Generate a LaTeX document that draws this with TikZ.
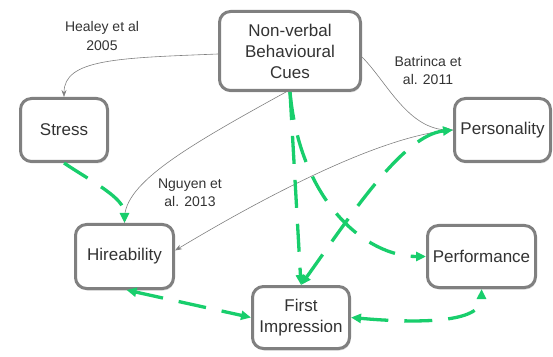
\documentclass[tikz,border=0pt]{standalone}
\usepackage{fontspec}
\setmainfont{Liberation Sans}
\usetikzlibrary{arrows.meta,shadows}
\definecolor{boxgray}{RGB}{128,128,128}
\definecolor{txt}{RGB}{51,51,51}
\definecolor{grn}{RGB}{24,206,108}
\begin{document}
\begin{tikzpicture}[x=1pt,y=1pt,
  box/.style={draw=boxgray, line width=3pt, rounded corners=11pt, fill=white, align=center,
    text=txt, font=\fontsize{17}{21}\selectfont, inner sep=2pt,
    drop shadow={shadow xshift=1pt, shadow yshift=-2pt, opacity=0.3}},
  lbl/.style={align=center, text=txt, font=\fontsize{14}{18}\selectfont},
  thinarrow/.style={draw=gray, line width=0.6pt, -{Stealth[length=7pt,width=5pt]}},
  gdash/.style={draw=grn, line width=3.3pt, dash pattern=on 28pt off 16pt},
  gtip/.tip={Triangle[length=10pt,width=9pt]}
]
\useasboundingbox (0,0) rectangle (553,356);
% nodes
\node[box, minimum width=141pt, minimum height=79pt] (nvc) at (290,305) {Non-verbal\\Behavioural\\Cues};
\node[box, minimum width=87pt, minimum height=63pt] (stress) at (64,226) {Stress};
\node[box, minimum width=96pt, minimum height=63pt] (pers) at (502.5,226) {Personality};
\node[box, minimum width=98pt, minimum height=64pt] (hire) at (124.5,99.5) {Hireability};
\node[box, minimum width=97pt, minimum height=62pt] (fi) at (301,38.5) {First\\Impression};
\node[box, minimum width=108pt, minimum height=62pt] (perf) at (481.5,99.5) {Performance};
% labels
\node[lbl] (healey) at (102,320) {Healey et al\\2005};
\node[lbl] (batrinca) at (428,286) {Batrinca et\\al. 2011};
\node[lbl] (nguyen) at (190,163) {Nguyen et\\al. 2013};
% thin gray connectors
\draw[thinarrow] ([yshift=-3pt]nvc.west) .. controls +(-100,-4) and +(0,38) .. (stress.north);
\draw[thinarrow] ([xshift=-4pt]nvc.south) .. controls +(-100,-55) and +(0,40) .. (hire.north);
\draw[thinarrow] ([yshift=-6pt]nvc.east) .. controls +(25,-25) and +(-45,0) .. (pers.west);
\draw[thinarrow] (pers.west) .. controls +(-80,-5) and +(60,36) .. ([yshift=6pt]hire.east);
% green dashed connectors
\draw[gdash, -gtip] (stress.south) .. controls +(30,-20) and +(0,25) .. (hire.north);
\draw[gdash, -gtip] (nvc.south) -- (fi.north);
\draw[gdash, -gtip] (nvc.south) .. controls +(10,-110) and +(-60,0) .. (perf.west);
\draw[gdash, gtip-gtip] (fi.north) .. controls +(50,70) and +(-50,-5) .. (pers.west);
\draw[gdash, gtip-gtip] ([xshift=2pt]hire.south) -- (fi.west);
\draw[gdash, gtip-gtip] (fi.east) .. controls +(68,-6) and +(0,-34) .. (perf.south);
\end{tikzpicture}
\end{document}
